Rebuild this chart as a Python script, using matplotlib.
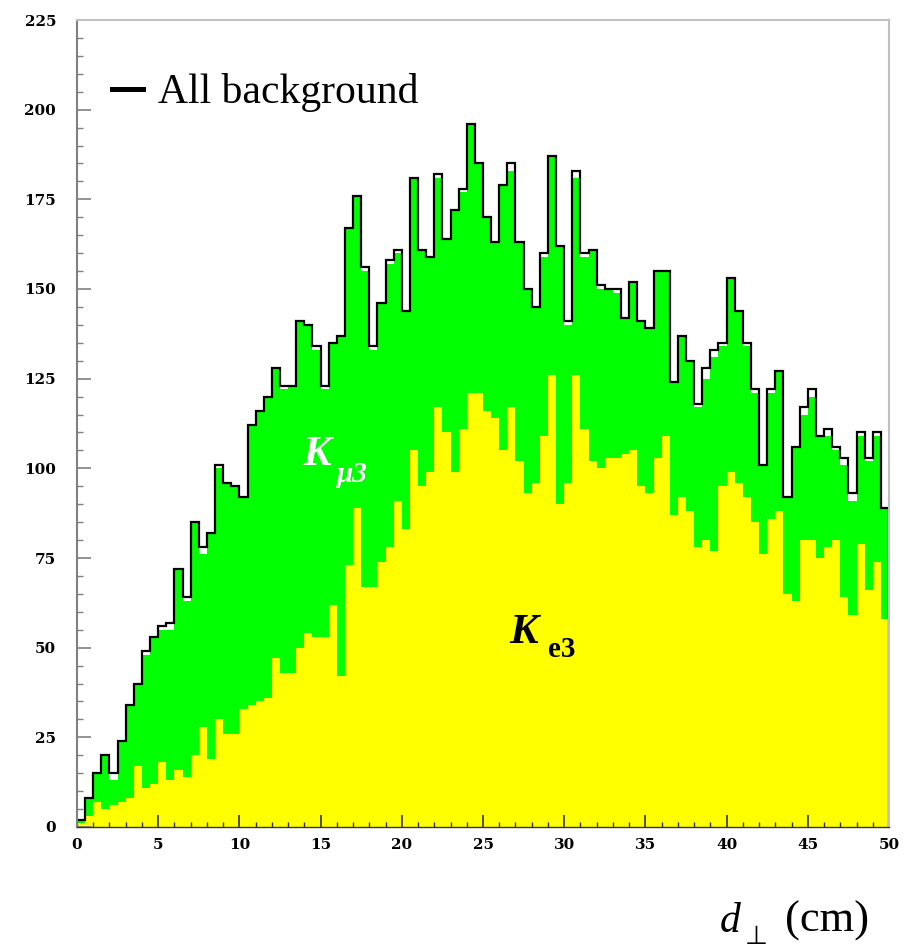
import numpy as np
import matplotlib.pyplot as plt
from matplotlib.lines import Line2D
from matplotlib.ticker import MultipleLocator

# 100 bins of 0.5 cm from 0 to 50 cm
edges = np.linspace(0, 50, 101)

# all background (black outline)
all_bkg = [2, 8, 15, 20, 15, 24, 34, 40, 49, 53,
           56, 57, 72, 64, 85, 78, 82, 101, 96, 95,
           92, 112, 116, 120, 128, 123, 123, 141, 140, 134,
           123, 135, 137, 167, 176, 156, 134, 146, 158, 161,
           144, 181, 161, 159, 182, 164, 172, 178, 196, 185,
           170, 163, 179, 185, 163, 150, 145, 160, 187, 162,
           141, 183, 160, 161, 151, 150, 150, 142, 152, 141,
           139, 155, 155, 124, 137, 130, 118, 128, 133, 135,
           153, 144, 135, 122, 101, 122, 127, 92, 106, 117,
           122, 109, 111, 106, 103, 93, 110, 103, 110, 89]

# Ke3 contribution (yellow)
ke3 = [1, 3, 7, 5, 6, 7, 8, 17, 11, 12,
       18, 13, 16, 14, 20, 28, 19, 30, 26, 26,
       33, 34, 35, 36, 47, 43, 43, 50, 54, 53,
       53, 62, 42, 73, 89, 67, 67, 74, 78, 91,
       83, 105, 95, 99, 117, 110, 99, 111, 121, 121,
       116, 114, 105, 117, 102, 93, 96, 109, 126, 90,
       96, 126, 111, 102, 100, 103, 103, 104, 105, 95,
       93, 103, 109, 87, 92, 88, 78, 80, 77, 95,
       99, 96, 92, 85, 76, 86, 88, 65, 63, 80,
       80, 75, 78, 80, 64, 59, 79, 66, 74, 58]

# other backgrounds (gap between green and the outline)
other = [0, 0, 0, 0, 2, 0, 0, 0, 1, 0,
         1, 2, 0, 1, 0, 2, 0, 1, 0, 0,
         0, 0, 0, 0, 0, 1, 0, 0, 0, 1,
         1, 0, 0, 0, 0, 1, 1, 0, 1, 1,
         0, 0, 0, 0, 1, 0, 0, 1, 0, 0,
         0, 0, 0, 2, 0, 0, 0, 1, 0, 0,
         1, 2, 1, 0, 1, 0, 1, 0, 0, 0,
         0, 0, 0, 0, 0, 0, 1, 3, 2, 1,
         0, 0, 1, 1, 0, 1, 0, 0, 0, 2,
         2, 0, 2, 1, 2, 2, 1, 1, 1, 0]

# Kmu3 + Ke3 stacked top (green)
kmu3_top = np.array(all_bkg) - np.array(other)

plt.rcParams['font.family'] = 'DejaVu Serif'
plt.rcParams['font.weight'] = 'bold'
plt.rcParams['font.size'] = 11

W, H = 914, 951
fig = plt.figure(figsize=(W / 100, H / 100), dpi=100)
ax = fig.add_axes([77 / W, 1 - 827 / H, 812 / W, 807 / H])

ax.stairs(kmu3_top, edges, fill=True, color='#00ff00', lw=0)
ax.stairs(ke3, edges, fill=True, color='#ffff00', lw=0)
ax.stairs(all_bkg, edges, color='black', lw=1.6)

ax.set_xlim(0, 50)
ax.set_ylim(0, 225)

ax.xaxis.set_major_locator(MultipleLocator(5))
ax.xaxis.set_minor_locator(MultipleLocator(1))
ax.yaxis.set_major_locator(MultipleLocator(25))
ax.yaxis.set_minor_locator(MultipleLocator(5))
ax.tick_params(direction='in', top=False, right=False, which='both')
ax.tick_params(axis='y', which='major', length=10, width=1.2, color='#808080', pad=15)
ax.tick_params(axis='y', which='minor', length=4.5, width=1.0, color='#808080')
ax.tick_params(axis='x', which='major', length=8.5, width=1.2, color='#333333', pad=8)
ax.tick_params(axis='x', which='minor', length=3.6, width=1.0, color='#333333')

ax.spines['left'].set_color('#808080')
ax.spines['left'].set_linewidth(1.5)
for s in ['top', 'right']:
    ax.spines[s].set_color('#c0c0c0')
    ax.spines[s].set_linewidth(1.5)
ax.spines['bottom'].set_color('#333333')
ax.spines['bottom'].set_linewidth(1.0)

# component labels
lab = dict(family='Liberation Serif', weight='bold', va='baseline', ha='left')
ax.text(13.9, 100.9, 'K', color='white', fontsize=31, style='italic', **lab)
ax.text(15.95, 96.3, 'μ3', color='white', fontsize=21, style='italic', **lab)
ax.text(26.6, 51.3, 'K', color='black', fontsize=31, style='italic', **lab)
ax.text(29.0, 47.4, 'e3', color='black', fontsize=21, **lab)

# legend
proxy = Line2D([], [], color='black', lw=3.6)
ax.legend([proxy], ['All background'], loc='upper left', bbox_to_anchor=(0.043, 0.934),
          frameon=False, prop={'family': 'Liberation Serif', 'size': 30, 'weight': 'normal'},
          handlelength=0.74, handletextpad=0.36, borderpad=0, borderaxespad=0)

# x axis title: d_perp (cm)
fig.text(720 / W, 1 - 932 / H, 'd', family='Liberation Serif', style='italic',
         weight='normal', fontsize=30, va='baseline', ha='left')
fig.text(745 / W, 1 - 950 / H, '⊥', family=['DejaVu Sans'], weight='normal',
         fontsize=19, va='bottom', ha='left')
fig.text(785 / W, 1 - 932 / H, '(cm)', family='Liberation Serif', weight='normal',
         fontsize=32, va='baseline', ha='left')

fig.savefig('out.png', dpi=100)
